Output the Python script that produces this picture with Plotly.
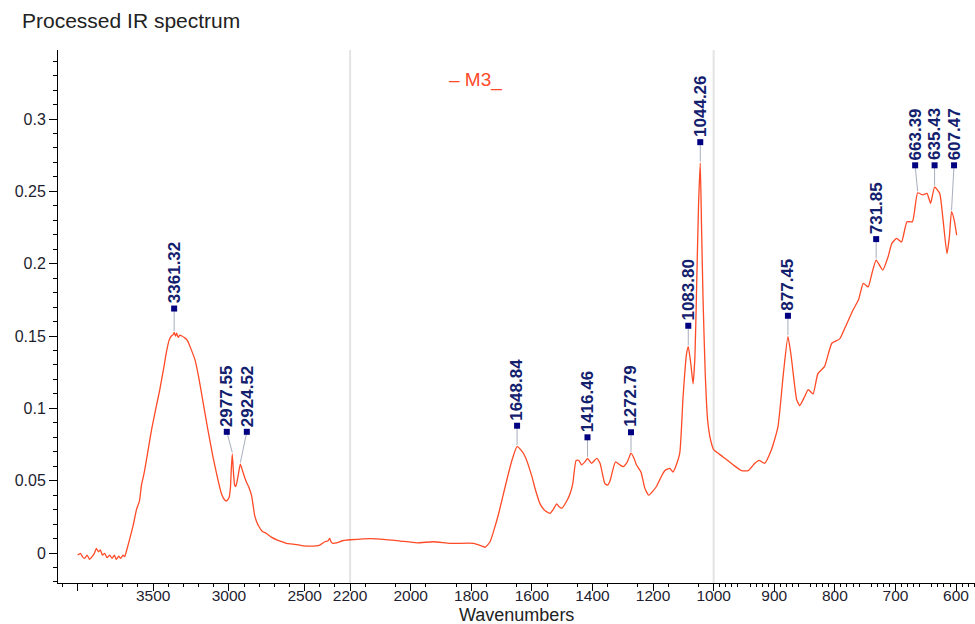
import numpy as np
import plotly.graph_objects as go

# ---- spectrum: wavenumber (cm-1) and absorbance ----
wavenumbers = [
    3998, 3980, 3967, 3952, 3936, 3919, 3903, 3888, 3875, 3861, 3848, 3835, 3820, 3804,
    3787, 3771, 3756, 3743, 3727, 3714, 3699, 3688, 3672, 3654, 3630, 3610, 3600, 3590,
    3577, 3560, 3540, 3511, 3480, 3456, 3430, 3412, 3395, 3380, 3368, 3361.32, 3352, 3345,
    3335, 3324, 3310, 3295, 3282, 3269, 3250, 3225, 3200, 3170, 3140, 3104, 3075, 3049,
    3030, 3016, 3000, 2990, 2984, 2977.55, 2970, 2962, 2955, 2945, 2935, 2924.52, 2910,
    2895, 2884, 2870, 2851, 2840, 2830, 2818, 2800, 2780, 2752, 2720, 2680, 2640, 2620,
    2576, 2520, 2466, 2400, 2367, 2345, 2335, 2324, 2312, 2290, 2250, 2224, 2200, 2133,
    2089, 2034, 1979, 1924, 1869, 1792, 1765, 1754, 1738, 1725, 1710, 1688, 1666, 1648.84,
    1635, 1622, 1600, 1590, 1573, 1555, 1540, 1530, 1518, 1510, 1501, 1485, 1474, 1465,
    1454, 1445, 1436, 1425, 1416.46, 1403, 1386, 1375, 1359, 1350, 1342, 1324, 1310, 1299,
    1285, 1272.79, 1262, 1255, 1240, 1233, 1227, 1214, 1200, 1189, 1175, 1161, 1145, 1134,
    1125, 1112, 1101, 1090, 1083.80, 1075, 1068, 1062, 1057, 1050, 1044.26, 1040, 1035,
    1028, 1020, 1010, 1000, 985, 968, 954, 943, 932, 925, 916, 905, 894, 885, 877.45, 872,
    863, 858, 850, 844, 836, 828, 817, 805, 792, 783, 770, 761, 753, 745, 739, 731.85, 721,
    712, 706, 698, 690, 681, 672, 663.39, 655, 648, 642, 635.43, 627, 622, 615, 611, 607.47,
    603, 599,
]
absorbance = [
    -0.0014, -0.0002, -0.0025, -0.0037, -0.0014, -0.0044, -0.0025, -0.0002, 0.0032, 0.0009,
    0.0021, -0.0014, -0.0002, -0.0032, -0.0014, -0.0037, -0.0014, -0.0044, -0.0021, -0.0037,
    -0.0014, -0.0025, 0.003, 0.010, 0.020, 0.030, 0.033, 0.036, 0.047, 0.055, 0.067, 0.085,
    0.101, 0.113, 0.128, 0.139, 0.147, 0.150, 0.151, 0.1525, 0.150, 0.152, 0.149, 0.1507,
    0.150, 0.149, 0.148, 0.146, 0.141, 0.134, 0.122, 0.104, 0.086, 0.066, 0.052, 0.041,
    0.037, 0.036, 0.038, 0.045, 0.058, 0.0685, 0.056, 0.047, 0.046, 0.050, 0.056, 0.0615,
    0.057, 0.052, 0.049, 0.046, 0.040, 0.033, 0.026, 0.022, 0.018, 0.015, 0.0135, 0.011,
    0.009, 0.0075, 0.0067, 0.0062, 0.0052, 0.0048, 0.0055, 0.0078, 0.0085, 0.0101, 0.0075,
    0.0067, 0.0070, 0.0085, 0.0090, 0.0092, 0.0100, 0.0095, 0.0083, 0.0071, 0.0078, 0.0067,
    0.0067, 0.0048, 0.0040, 0.0078, 0.016, 0.027, 0.046, 0.064, 0.0735,
    0.071, 0.0666, 0.053, 0.045, 0.034, 0.029, 0.0274, 0.030, 0.034, 0.032, 0.031, 0.036,
    0.041, 0.048, 0.064, 0.064, 0.061, 0.063, 0.0655, 0.062, 0.0655, 0.062, 0.048, 0.047,
    0.050, 0.063, 0.061, 0.0597, 0.063, 0.069, 0.065, 0.061, 0.056, 0.050, 0.0447, 0.040,
    0.043, 0.046, 0.052, 0.057, 0.0585, 0.056, 0.060, 0.069, 0.108, 0.137, 0.1426, 0.130,
    0.117, 0.135, 0.177, 0.240, 0.2695, 0.225, 0.175, 0.125, 0.092, 0.078, 0.0715, 0.0666,
    0.061, 0.057, 0.057, 0.062, 0.064, 0.062, 0.071, 0.087, 0.124, 0.1495, 0.1357, 0.106,
    0.102, 0.108, 0.113, 0.110, 0.124, 0.129, 0.145, 0.148, 0.156, 0.168, 0.175, 0.1864,
    0.184, 0.193, 0.2025, 0.1956, 0.205, 0.214, 0.2175, 0.215, 0.229, 0.229, 0.249, 0.2475,
    0.2486, 0.2417, 0.253, 0.2486, 0.2325, 0.207, 0.2187, 0.236, 0.230, 0.2198,
]

# ---- picked peaks ----
peak_wavenumbers = [3361.32, 2977.55, 2924.52, 1648.84, 1416.46, 1272.79, 1083.80,
                    1044.26, 877.45, 731.85, 663.39, 635.43, 607.47]
peak_labels = ["3361.32", "2977.55", "2924.52", "1648.84", "1416.46", "1272.79", "1083.80",
               "1044.26", "877.45", "731.85", "663.39", "635.43", "607.47"]

# ---- axis ticks ----
x_major = [4000, 3500, 3000, 2500, 2200, 2000, 1800, 1600, 1400, 1200, 1000, 900, 800, 700, 600]
x_major_text = ["", "3500", "3000", "2500", "2200", "2000", "1800", "1600", "1400", "1200",
                "1000", "900", "800", "700", "600"]
x_medium = [2100, 1900, 1700, 1500, 1300, 1100, 950, 850, 750, 650]
y_major = [0, 0.05, 0.1, 0.15, 0.2, 0.25, 0.3]
y_major_text = ["0", "0.05", "0.1", "0.15", "0.2", "0.25", "0.3"]
scale_breaks = [2200, 1000]


def to_axis(wn):
    """Piecewise scale: 1x above 2200, 2x for 2200-1000, 4x below 1000 cm-1."""
    wn = np.asarray(wn, dtype=float)
    return np.where(wn >= 2200, 4000 - wn,
                    np.where(wn >= 1000, 1800 + 2 * (2200 - wn), 4200 + 4 * (1000 - wn)))


x_minor = ([w for w in range(4100, 2200, -100) if w not in x_major]
           + [w for w in range(2150, 1000, -50) if w not in x_major + x_medium]
           + [w for w in range(990, 560, -10) if w not in x_major + x_medium])
y_minor = [round(v, 2) for v in np.arange(-0.02, 0.345, 0.01) if round(v, 2) not in y_major]

X_RANGE = [-128, 5925]
Y_RANGE = [-0.0207, 0.3477]
PLOT_L, PLOT_R, PLOT_T, PLOT_B = 58, 0, 50, 41
W, H = 975, 624
px_per_u = (W - PLOT_L - PLOT_R) / (X_RANGE[1] - X_RANGE[0])

FONT = "Liberation Sans, Arial, sans-serif"
LINE_COLOR = "#ff4a26"
LABEL_COLOR = "#12206e"
TICK_COLOR = "#1e1e30"

# label placement: height above the peak, fixed heights for crowded groups, pixel shifts
label_gap = {"3361.32": 0.0165}
label_height = {"2977.55": 0.0838, "2924.52": 0.0838,
                "663.39": 0.268, "635.43": 0.268, "607.47": 0.268}
label_dx = {"2977.55": -5.5, "2924.52": 6.5, "663.39": -2.5, "607.47": 2.5}

wn_arr = np.array(wavenumbers)
ab_arr = np.array(absorbance)
peak_abs = np.interp(peak_wavenumbers, wn_arr[::-1], ab_arr[::-1])

fig = go.Figure()

for wb in scale_breaks:
    fig.add_shape(type="line", xref="x", yref="paper", x0=float(to_axis(wb)), x1=float(to_axis(wb)),
                  y0=0, y1=1, line=dict(color="#e4e4e4", width=2), layer="below")

fig.add_trace(go.Scatter(
    x=to_axis(wavenumbers), y=absorbance, mode="lines", name="M3_",
    line=dict(color=LINE_COLOR, width=1.3, shape="spline", smoothing=0.5),
    hoverinfo="skip",
))

conn_x, conn_y, sq_x, sq_y = [], [], [], []
annotations = []
for wn, lab, a in zip(peak_wavenumbers, peak_labels, peak_abs):
    u_peak = float(to_axis(wn))
    u_lab = u_peak + label_dx.get(lab, 0) / px_per_u
    a_lab = label_height.get(lab, a + label_gap.get(lab, 0.0145))
    conn_x += [u_peak, u_lab, None]
    conn_y += [a + 0.001, a_lab, None]
    sq_x.append(u_lab)
    sq_y.append(a_lab)
    annotations.append(dict(
        x=u_lab, y=a_lab, xref="x", yref="y", text="<b>%s</b>" % lab, textangle=-90,
        showarrow=False, xanchor="center", yanchor="bottom", yshift=3,
        font=dict(family=FONT, size=17, color=LABEL_COLOR),
    ))

fig.add_trace(go.Scatter(x=conn_x, y=conn_y, mode="lines",
                         line=dict(color="#a9adbd", width=1), hoverinfo="skip"))
fig.add_trace(go.Scatter(x=sq_x, y=sq_y, mode="markers",
                         marker=dict(symbol="square", size=6, color="#000080"), hoverinfo="skip"))

# legend entry and axis title
annotations.append(dict(x=(447 - PLOT_L) / (W - PLOT_L - PLOT_R), y=1, xref="paper", yref="paper",
                        xanchor="left", yanchor="middle", yshift=-30, showarrow=False,
                        text="– M3_", font=dict(family=FONT, size=19, color="#ff4a2a")))
annotations.append(dict(x=0.5, y=0, xref="paper", yref="paper", xanchor="center",
                        yanchor="middle", yshift=-31.5, showarrow=False, text="Wavenumbers",
                        borderpad=0, font=dict(family=FONT, size=18, color="#222")))

fig.update_layout(
    width=W, height=H,
    margin=dict(l=PLOT_L, r=PLOT_R, t=PLOT_T, b=PLOT_B),
    paper_bgcolor="white", plot_bgcolor="white",
    showlegend=False,
    title=dict(text="Processed IR spectrum", xref="container", yref="container",
               x=22 / W, y=1 - 21 / H, xanchor="left", yanchor="middle",
               font=dict(family=FONT, size=21, color="#222")),
    annotations=annotations,
    xaxis=dict(
        range=X_RANGE, showgrid=False, zeroline=False,
        showline=True, linecolor="black", linewidth=1,
        tickmode="array", tickvals=to_axis(x_major).tolist(), ticktext=x_major_text,
        ticks="outside", ticklen=7, tickwidth=1, tickcolor="black",
        ticklabelstandoff=-9,
        tickfont=dict(family=FONT, size=15.5, color=TICK_COLOR),
        minor=dict(tickmode="array", tickvals=to_axis(x_minor).tolist(),
                   ticks="outside", ticklen=3, tickcolor="black", showgrid=False),
    ),
    xaxis2=dict(
        overlaying="x", matches="x", anchor="y", side="bottom", range=X_RANGE,
        tickmode="array", tickvals=to_axis(x_medium).tolist(), showticklabels=False,
        ticks="outside", ticklen=5, tickcolor="black", showline=False,
        showgrid=False, zeroline=False,
    ),
    yaxis=dict(
        range=Y_RANGE, showgrid=False, zeroline=False,
        showline=True, linecolor="black", linewidth=1,
        tickmode="array", tickvals=y_major, ticktext=y_major_text,
        ticks="outside", ticklen=8, tickwidth=1, tickcolor="black",
        tickfont=dict(family=FONT, size=16, color=TICK_COLOR),
        minor=dict(tickmode="array", tickvals=y_minor, ticks="outside", ticklen=4,
                   tickcolor="black", showgrid=False),
    ),
)

fig.write_html("out.html")
